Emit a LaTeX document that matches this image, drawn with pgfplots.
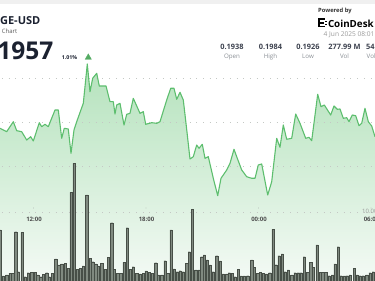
\documentclass[border=0pt]{standalone}
\usepackage{pgfplots}
\pgfplotsset{compat=1.18}
\usepackage{fontspec}
\setmainfont{Open Sans}
\definecolor{linegreen}{HTML}{5DBE6E}
\definecolor{fillTop}{HTML}{B4E2BC}
\definecolor{fillBot}{HTML}{F4FAF5}
\definecolor{barfill}{HTML}{808A80}
\definecolor{bardraw}{HTML}{474F47}
\definecolor{navy}{HTML}{1B2130}
\definecolor{gridc}{HTML}{C4C8C4}
\definecolor{lbl}{HTML}{8A8F95}
\begin{document}
\begin{tikzpicture}
\path[use as bounding box] (0,0) rectangle (375pt,281pt);
\clip (0,0) rectangle (375pt,281pt);
\begin{axis}[at={(0,0)}, anchor=south west, width=375pt, height=281pt, scale only axis,
  xmin=0, xmax=375, ymin=0, ymax=281, hide axis, clip=false]
% top strip
\fill[black!6] (axis cs:0,277) rectangle (axis cs:375,282);
% price area
\addplot[draw=none, top color=fillTop, bottom color=fillBot] coordinates {
(0,152.7)(6.7,149.3)(13.3,159.3)(16.7,150.3)(21.7,149.3)(26.7,141)(30.7,144.3)(33.3,140)
(39.3,158.3)(41.7,154.3)(45,156.7)(48.3,154.3)(55,171)(58.3,171)(61.7,142.7)(64.3,152.7)
(68.3,152)(71,127.7)(74,151)(77.3,161)(83.3,177.7)(87.3,217)(90,189.3)(92.7,202.7)
(96.7,207.7)(99.3,195)(106,195)(110,179.3)(113.3,179.3)(115,167)(116.7,176)(120,177.7)
(124,156)(126.7,166.7)(130,167.7)(133.3,182.7)(140,167.7)(143.3,169.3)(145.7,156.7)
(151.7,158.3)(156.7,157.7)(160,159.3)(166.7,181)(170.7,192.7)(174,192.7)(176.7,181.7)
(180,188.7)(183.3,181)(186,157.7)(190,122)(193.3,124.3)(196.7,136)(199,132.7)(202.3,136.7)
(205,122.7)(208.3,124.3)(213.3,102.7)(217.7,85.3)(221,102.7)(226.7,111)(230,117.7)
(234,131.7)(236.7,124.3)(241.7,111)(246.7,104.3)(251.7,102.7)(255,102.7)(258.3,116)
(261.7,117)(267.7,86)(271.7,99.3)(276.7,142.7)(280,133.7)(283.3,156)(286.7,141.7)
(291.7,142.7)(295.7,167)(300,157.7)(305.7,142.7)(309,143.7)(311.7,140.3)(317.7,186.7)
(321,174.3)(324.3,176)(330.7,166)(334,175)(337.3,171.7)(340,172)(343.3,162.7)(346.7,163.3)
(349,159.3)(352.3,166)(355.7,165.3)(359,155.3)(361.7,157.7)(365,172.7)(368.3,159.3)
(371.7,155)(375,144.3)} \closedcycle;
% dotted grid
\foreach \yy in {69,115,159,203} {
  \edef\temp{\noexpand\draw[gridc, line width=0.6pt, dash pattern=on 0.7pt off 6pt] (axis cs:2,\yy) -- (axis cs:375,\yy);}
  \temp
}
% price line
\addplot[linegreen, line width=1.1pt, line join=round] coordinates {
(0,152.7)(6.7,149.3)(13.3,159.3)(16.7,150.3)(21.7,149.3)(26.7,141)(30.7,144.3)(33.3,140)
(39.3,158.3)(41.7,154.3)(45,156.7)(48.3,154.3)(55,171)(58.3,171)(61.7,142.7)(64.3,152.7)
(68.3,152)(71,127.7)(74,151)(77.3,161)(83.3,177.7)(87.3,217)(90,189.3)(92.7,202.7)
(96.7,207.7)(99.3,195)(106,195)(110,179.3)(113.3,179.3)(115,167)(116.7,176)(120,177.7)
(124,156)(126.7,166.7)(130,167.7)(133.3,182.7)(140,167.7)(143.3,169.3)(145.7,156.7)
(151.7,158.3)(156.7,157.7)(160,159.3)(166.7,181)(170.7,192.7)(174,192.7)(176.7,181.7)
(180,188.7)(183.3,181)(186,157.7)(190,122)(193.3,124.3)(196.7,136)(199,132.7)(202.3,136.7)
(205,122.7)(208.3,124.3)(213.3,102.7)(217.7,85.3)(221,102.7)(226.7,111)(230,117.7)
(234,131.7)(236.7,124.3)(241.7,111)(246.7,104.3)(251.7,102.7)(255,102.7)(258.3,116)
(261.7,117)(267.7,86)(271.7,99.3)(276.7,142.7)(280,133.7)(283.3,156)(286.7,141.7)
(291.7,142.7)(295.7,167)(300,157.7)(305.7,142.7)(309,143.7)(311.7,140.3)(317.7,186.7)
(321,174.3)(324.3,176)(330.7,166)(334,175)(337.3,171.7)(340,172)(343.3,162.7)(346.7,163.3)
(349,159.3)(352.3,166)(355.7,165.3)(359,155.3)(361.7,157.7)(365,172.7)(368.3,159.3)
(371.7,155)(375,144.3)};
% volume bars
\addplot[ybar, bar width=2.2, fill=barfill, draw=bardraw, line width=0.3pt] coordinates {
(0,51)(3.3,5)(6.7,6)(10,7.5)(12.7,7.5)(15.7,49.3)(18.3,9.3)(22,48.5)(25,4.3)(28.3,8.3)
(31.7,8.7)(35,8.7)(37.7,6)(40.7,4.3)(43.3,6.7)(46.7,8.3)(49.3,4.3)(52.3,7.7)(55.7,22)
(58.7,16)(61.7,17)(65,17.7)(68.3,12.7)(71,88.7)(74,117.7)(77,11.7)(80,12.7)(83.3,15)
(86.7,86)(90,22.7)(92.7,19.3)(95.7,17)(98.3,15)(101.7,17.7)(105,11.7)(108.3,23.7)
(111.7,58.3)(114.3,11.7)(117.7,7.7)(120.7,7.7)(124,18.7)(127.3,53.3)(130,11.7)(133.3,14.3)
(136.7,7.7)(140,7)(143.3,7.7)(146,10)(149.3,8.7)(152.3,7.7)(155.7,18.3)(158.3,6)(161.7,6)
(165,20.3)(167.7,7.7)(171,51)(174,12)(177.3,9.3)(180,10.3)(183.3,9.3)(186.7,17.7)
(189.3,29.3)(192.3,71.7)(195.7,11)(199,11)(201.7,24.3)(204.3,26)(207,21)(210,16)(213.3,9.3)
(216.7,25.3)(220,20)(223.3,7)(226.7,7)(229.3,8.3)(232.3,7.7)(235,4.3)(238.3,11.7)(241,5)
(244.3,5)(247.7,5.3)(251.7,21)(254.3,13.7)(257.7,7.7)(260.3,8.7)(263.3,7.7)(266.3,7)
(269.7,8.3)(273,51.7)(275.7,16.3)(279,25.3)(282.3,27)(285,9.3)(288.3,11)(291.7,6)(295,8.3)
(298.3,8.3)(301,8.3)(304.3,24.3)(307.7,8.7)(310.7,18.7)(313.3,13.7)(317,36)(320,8.7)
(322.7,8.7)(325.7,8.7)(329,5.3)(332.3,6)(335,17)(338.3,34.3)(341,5.3)(344.3,5)(347,5.3)
(350,6)(354.3,12.7)(357,6)(360,5.3)(363.3,5.3)(366.7,6)(370,8.3)(373.3,9.3)};
% max marker
\addplot[only marks, mark=triangle*, mark size=3.6pt, color=linegreen!90!black] coordinates {(88.3,223.5)};
% header
\node[anchor=base east, font=\fontsize{11}{13}\selectfont\bfseries, text=navy, inner sep=0] at (axis cs:40.5,256) {DOGE-USD};
\node[anchor=base east, font=\fontsize{6}{7}\selectfont, text=black!65, inner sep=0] at (axis cs:17.5,247) {Price Chart};
\node[anchor=base east, font=\fontsize{24.5}{26}\selectfont\bfseries, text=navy, inner sep=0] at (axis cs:53.5,221.5) {0.1957};
\node[anchor=base west, font=\fontsize{5.3}{6}\selectfont\bfseries, text=navy, inner sep=0] at (axis cs:61.7,221.5) {1.01\%};
% powered by
\node[anchor=base west, font=\fontsize{5.8}{7}\selectfont\bfseries, text=black!80, inner sep=0] at (axis cs:318,268.5) {Powered by};
\fill[black] (axis cs:318,263) rectangle (axis cs:319.8,253.5);
\fill[black] (axis cs:318,263) rectangle (axis cs:324.5,261.3);
\fill[black] (axis cs:318,259) rectangle (axis cs:323.5,257.4);
\fill[black] (axis cs:318,255.2) rectangle (axis cs:324.5,253.5);
\fill[black] (axis cs:325.3,260.2) rectangle (axis cs:326.6,258.9);
\fill[black] (axis cs:325.3,256.8) rectangle (axis cs:326.6,255.5);
\node[anchor=base west, font=\fontsize{9.8}{12}\selectfont\bfseries, text=black, inner sep=0] at (axis cs:327.8,253.5) {CoinDesk};
\node[anchor=base west, font=\fontsize{6.6}{8}\selectfont, text=black!40, inner sep=0] at (axis cs:323.5,244) {4 Jun 2025 08:01};
% stats
\foreach \xx/\vv/\ll in {232/0.1938/Open, 270.5/0.1984/High, 308/0.1926/Low, 344.5/277.99 M/Vol, 380/54.21 M/Vol (USD)} {
  \edef\temp{\noexpand\node[anchor=base, font=\noexpand\fontsize{7.4}{9}\noexpand\selectfont\noexpand\bfseries, text=navy!85, inner sep=0] at (axis cs:\xx,231) {\vv};
  \noexpand\node[anchor=base, font=\noexpand\fontsize{6.2}{7}\noexpand\selectfont, text=lbl, inner sep=0] at (axis cs:\xx,222) {\ll};}
  \temp
}
% time axis labels
\foreach \xx/\tt in {34/12:00, 146.5/18:00, 259/00:00, 371.5/06:00} {
  \edef\temp{\noexpand\node[anchor=base, font=\noexpand\fontsize{6}{7}\noexpand\selectfont\noexpand\bfseries, text=black!70, inner sep=0] at (axis cs:\xx,59) {\tt};
  \noexpand\fill[black!40] (axis cs:\xx-0.5,73) circle[radius=0.45pt];}
  \temp
}
\node[anchor=base west, font=\fontsize{6}{7}\selectfont, text=black!40, inner sep=0] at (axis cs:362,67.5) {10.00 M};
\end{axis}
\end{tikzpicture}
\end{document}
